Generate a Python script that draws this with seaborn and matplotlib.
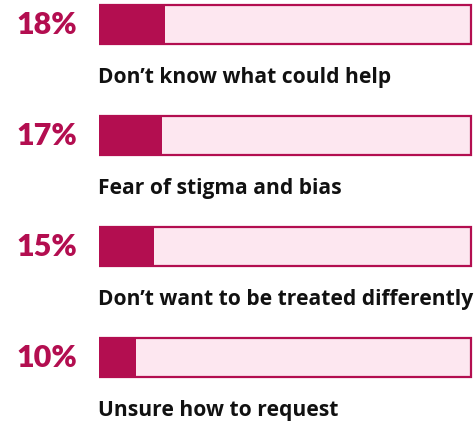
import matplotlib
matplotlib.use("Agg")
import matplotlib.pyplot as plt
import seaborn as sns
import pandas as pd

categories = ["Don\u2019t know what could help", "Fear of stigma and bias",
              "Don\u2019t want to be treated differently", "Unsure how to request"]
values = [18, 17, 15, 10]
pct_labels = ["18%", "17%", "15%", "10%"]
total = [100, 100, 100, 100]

CRIMSON = "#B30E50"
PINK = "#FDE7F0"

sns.set_theme(style="white")
plt.rcParams['font.family'] = ['Open Sans', 'DejaVu Sans']

df = pd.DataFrame({"cat": categories, "val": values, "tot": total})

fig = plt.figure(figsize=(4.75, 4.25), dpi=100)
ax = fig.add_axes([98.5 / 475, 0, 374 / 475, 1])

sns.barplot(data=df, x="tot", y="cat", orient="h", color=PINK, edgecolor=CRIMSON,
            linewidth=1.6, width=0.35, saturation=1, ax=ax)
sns.barplot(data=df, x="val", y="cat", orient="h", color=CRIMSON, edgecolor=CRIMSON,
            linewidth=0, width=0.35, saturation=1, ax=ax)

ax.set_xlim(0, 100.5)
ax.set_ylim(3 + (425 - 357.5) / 111, -24.5 / 111)
ax.axis("off")

renderer = fig.canvas.get_renderer()
cat_texts = []
for i, (cat, pl) in enumerate(zip(categories, pct_labels)):
    ax.annotate(pl, xy=(0, i), xycoords="data", xytext=(-82, 0), textcoords="offset pixels",
                ha="left", va="center", fontsize=22, fontweight="heavy", color=CRIMSON,
                family=["Lato", "DejaVu Sans"])
    t = ax.text(0, i + 0.53, cat, ha="left", va="baseline", fontsize=13, fontweight="bold",
                color="#111111")
    cat_texts.append(t)

# scale category label size so the longest spans ~370 px
widest = max(t.get_window_extent(renderer).width for t in cat_texts)
scale = 370 / widest
for t in cat_texts:
    t.set_fontsize(13 * scale)

fig.savefig("out.png", dpi=100)
